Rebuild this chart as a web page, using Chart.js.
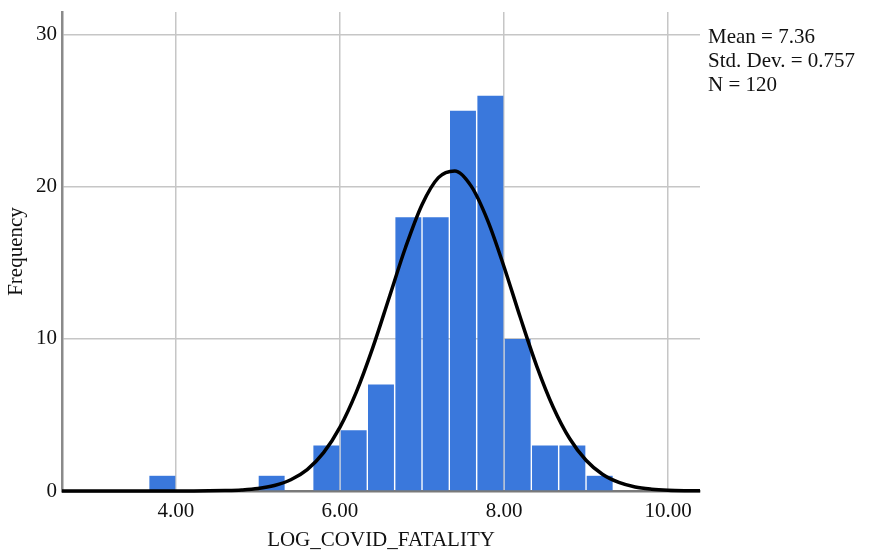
<!DOCTYPE html>
<html>
<head>
<meta charset="utf-8">
<script src="https://cdn.jsdelivr.net/npm/chart.js@4.4.1/dist/chart.umd.min.js"></script>
<style>
html,body{margin:0;padding:0;background:#fff;}
#wrap{width:877px;height:553px;position:relative;}
</style>
</head>
<body>
<div id="wrap"><canvas id="c" width="877" height="553"></canvas></div>
<script>
// Histogram bins (lower edge) and counts
const binLower = [3.667, 5.0, 5.667, 6.0, 6.333, 6.667, 7.0, 7.333, 7.667, 8.0, 8.333, 8.667, 9.0];
const binWidth = 1/3;
const counts = [1, 1, 3, 4, 7, 18, 18, 25, 26, 10, 3, 3, 1];

// Normal curve points
const curveX = [2.6, 3.0, 3.4, 3.8, 4.2, 4.4, 4.6, 4.8, 5.0, 5.2, 5.4, 5.6, 5.8, 6.0, 6.2, 6.4, 6.6, 6.8, 7.0, 7.2, 7.4, 7.6, 7.8, 8.0, 8.2, 8.4, 8.6, 8.8, 9.0, 9.2, 9.4, 9.6, 9.8, 10.0, 10.2, 10.4];
const curveY = [0, 0, 0, 0, 0.003, 0.01, 0.03, 0.07, 0.16, 0.36, 0.74, 1.41, 2.52, 4.20, 6.52, 9.43, 12.73, 16.03, 18.83, 20.61, 21.05, 20.05, 17.80, 14.75, 11.39, 8.20, 5.51, 3.45, 2.02, 1.10, 0.56, 0.26, 0.12, 0.05, 0.02, 0.01];

const xTicks = [4, 6, 8, 10];
const yTicks = [0, 10, 20, 30];
const statsLines = ["Mean = 7.36", "Std. Dev. = 0.757", "N = 120"];
const xTitle = "LOG_COVID_FATALITY";
const yTitle = "Frequency";

const FONT = "'Liberation Serif', 'Times New Roman', serif";
const FS = 21;

const barData = binLower.map((lo, i) => ({x: lo + binWidth/2, y: counts[i]}));
const lineData = curveX.map((x, i) => ({x: x, y: curveY[i]}));

const statsPlugin = {
  id: 'stats',
  afterDraw(chart) {
    const ctx = chart.ctx;
    ctx.save();
    ctx.font = FS + "px " + FONT;
    ctx.fillStyle = "#111";
    ctx.textAlign = "left";
    ctx.textBaseline = "alphabetic";
    statsLines.forEach((t, i) => ctx.fillText(t, chart.chartArea.right + 8, 43 + i * 24));
    ctx.restore();
  }
};

new Chart(document.getElementById('c'), {
  data: {
    datasets: [
      {
        type: 'line',
        data: lineData,
        borderColor: '#000',
        borderWidth: 3.5,
        pointRadius: 0,
        cubicInterpolationMode: 'monotone',
        fill: false,
        clip: {left: 0, right: 0, top: false, bottom: 4},
        order: 0
      },
      {
        type: 'bar',
        data: barData,
        backgroundColor: '#3a78dc',
        borderWidth: 0,
        categoryPercentage: 1,
        barPercentage: 0.95,
        order: 1
      }
    ]
  },
  options: {
    responsive: false,
    animation: false,
    layout: {padding: {left: 0, top: 0, right: 177, bottom: 0}},
    plugins: {legend: {display: false}, tooltip: {enabled: false}},
    scales: {
      x: {
        type: 'linear',
        offset: false,
        min: 2.61,
        max: 10.39,
        afterBuildTicks(s) { s.ticks = xTicks.map(v => ({value: v})); },
        afterFit(s) { s.height = 62; },
        grid: {color: '#c6c6c6', lineWidth: 1.5, drawTicks: false, offset: false},
        border: {color: '#7a7a7a', width: 2.5},
        ticks: {
          padding: 8,
          color: '#111',
          font: {family: FONT, size: FS},
          callback: v => Number(v).toFixed(2),
          maxRotation: 0
        },
        title: {display: true, text: xTitle, color: '#111', font: {family: FONT, size: FS}, padding: {top: 0, bottom: 0}}
      },
      y: {
        min: 0,
        max: 31.5,
        afterBuildTicks(s) { s.ticks = yTicks.map(v => ({value: v})); },
        afterFit(s) { s.width = 62; s.paddingTop = 12; },
        grid: {color: '#c6c6c6', lineWidth: 1.5, drawTicks: false},
        border: {color: '#8a8a8a', width: 2.5},
        ticks: {padding: 5, color: '#111', font: {family: FONT, size: FS}},
        title: {display: true, text: yTitle, color: '#111', font: {family: FONT, size: FS}, padding: {top: 4, bottom: 0}}
      }
    }
  },
  plugins: [statsPlugin]
});
</script>
</body>
</html>
